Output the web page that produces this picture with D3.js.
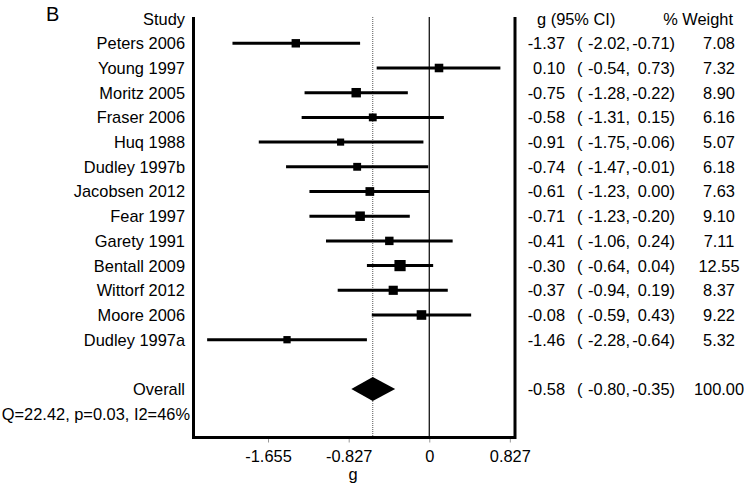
<!doctype html>
<html>
    <head>
        <style>
            body {margin:0; background-color:white}
            svg {width:744px; height:485px; display:block}
            text {font-family:"Liberation Sans", Arial, Helvetica, sans-serif; font-size:16.4px; fill:black}
        </style>
        <script src="https://d3js.org/d3.v7.min.js"></script>
    </head>
    <body>
        <script>
            var studies = ["Peters 2006","Young 1997","Moritz 2005","Fraser 2006","Huq 1988","Dudley 1997b","Jacobsen 2012","Fear 1997","Garety 1991","Bentall 2009","Wittorf 2012","Moore 2006","Dudley 1997a"];
            var gValues = [-1.37,0.10,-0.75,-0.58,-0.91,-0.74,-0.61,-0.71,-0.41,-0.30,-0.37,-0.08,-1.46];
            var ciLower = [-2.02,-0.54,-1.28,-1.31,-1.75,-1.47,-1.23,-1.23,-1.06,-0.64,-0.94,-0.59,-2.28];
            var ciUpper = [-0.71,0.73,-0.22,0.15,-0.06,-0.01,0.00,-0.20,0.24,0.04,0.19,0.43,-0.64];
            var weights = [7.08,7.32,8.90,6.16,5.07,6.18,7.63,9.10,7.11,12.55,8.37,9.22,5.32];
            var overall = {g:-0.58, lower:-0.80, upper:-0.35, weight:100.00};
            var hetText = "Q=22.42, p=0.03, I2=46%";
            var xTicks = [-1.655,-0.827,0,0.827];

            //globals
            var plotLeft=193.5;
            var plotRight=515;
            var plotTop=17;
            var plotBottom=437.5;

            var svgDoc = d3.select("body").append("svg");

            var x = d3.scaleLinear().domain([-2.42,0.88]).range([plotLeft,plotRight]);
            //row index -> y (header is -1, overall is 14, stats line 15)
            var y = d3.scaleLinear().domain([0,12]).range([43.3,339.7]);
            var size = d3.scaleSqrt().domain([0,12.55]).range([0,11.2]);

            function fmt(v){ return v.toFixed(2); }

            //panel letter
            svgDoc.append("text").attr("x",46).attr("y",20.5)
                .style("font-size","20px").text("B");

            //column headers
            svgDoc.append("text").attr("x",185).attr("y",y(-1)).attr("dy","0.36em")
                .attr("text-anchor","end").text("Study");
            svgDoc.append("text").attr("x",537).attr("y",y(-1)).attr("dy","0.36em")
                .text("g (95% CI)");
            svgDoc.append("text").attr("x",733).attr("y",y(-1)).attr("dy","0.36em")
                .attr("text-anchor","end").text("% Weight");

            //reference lines
            svgDoc.append("line")
                .attr("x1",x(0)).attr("x2",x(0)).attr("y1",plotTop).attr("y2",plotBottom)
                .attr("stroke","black").attr("stroke-width",1.2);
            svgDoc.append("line")
                .attr("x1",x(overall.g)).attr("x2",x(overall.g)).attr("y1",plotTop).attr("y2",plotBottom)
                .attr("stroke","#555").attr("stroke-width",1).attr("stroke-dasharray","1,1");

            //study rows
            var rows = svgDoc.append("g").selectAll("g")
                .data(studies)
                .enter()
                .append("g");

            rows.append("text")
                .attr("x",185).attr("y",function(d,i){return y(i)}).attr("dy","0.36em")
                .attr("text-anchor","end").text(function(d){return d});

            rows.append("line")
                .attr("x1",function(d,i){return x(ciLower[i])})
                .attr("x2",function(d,i){return x(ciUpper[i])})
                .attr("y1",function(d,i){return y(i)})
                .attr("y2",function(d,i){return y(i)})
                .attr("stroke","black").attr("stroke-width",3);

            rows.append("rect")
                .attr("x",function(d,i){return x(gValues[i])-size(weights[i])/2})
                .attr("y",function(d,i){return y(i)-size(weights[i])/2})
                .attr("width",function(d,i){return size(weights[i])})
                .attr("height",function(d,i){return size(weights[i])})
                .attr("fill","black");

            rows.append("text")
                .attr("x",565).attr("y",function(d,i){return y(i)}).attr("dy","0.36em")
                .attr("text-anchor","end").text(function(d,i){return fmt(gValues[i])});
            rows.append("text")
                .attr("x",577).attr("y",function(d,i){return y(i)}).attr("dy","0.36em")
                .text("(");
            rows.append("text")
                .attr("x",630).attr("y",function(d,i){return y(i)}).attr("dy","0.36em")
                .attr("text-anchor","end").text(function(d,i){return fmt(ciLower[i])+","});
            rows.append("text")
                .attr("x",675).attr("y",function(d,i){return y(i)}).attr("dy","0.36em")
                .attr("text-anchor","end").text(function(d,i){return fmt(ciUpper[i])+")"});
            rows.append("text")
                .attr("x",719).attr("y",function(d,i){return y(i)}).attr("dy","0.36em")
                .attr("text-anchor","middle").text(function(d,i){return fmt(weights[i])});

            //overall row
            var oy = y(14);
            svgDoc.append("text").attr("x",185).attr("y",oy).attr("dy","0.36em")
                .attr("text-anchor","end").text("Overall");
            svgDoc.append("path")
                .attr("d","M"+x(overall.lower)+","+oy+"L"+x(overall.g)+","+(oy-12)
                    +"L"+x(overall.upper)+","+oy+"L"+x(overall.g)+","+(oy+12)+"Z")
                .attr("fill","black");
            svgDoc.append("text").attr("x",565).attr("y",oy).attr("dy","0.36em")
                .attr("text-anchor","end").text(fmt(overall.g));
            svgDoc.append("text").attr("x",577).attr("y",oy).attr("dy","0.36em").text("(");
            svgDoc.append("text").attr("x",630).attr("y",oy).attr("dy","0.36em")
                .attr("text-anchor","end").text(fmt(overall.lower)+",");
            svgDoc.append("text").attr("x",675).attr("y",oy).attr("dy","0.36em")
                .attr("text-anchor","end").text(fmt(overall.upper)+")");
            svgDoc.append("text").attr("x",719).attr("y",oy).attr("dy","0.36em")
                .attr("text-anchor","middle").text(fmt(overall.weight));

            svgDoc.append("text").attr("x",190).attr("y",y(15)).attr("dy","0.36em")
                .attr("text-anchor","end").text(hetText);

            //x axis
            var xAxis = d3.axisBottom(x).tickValues(xTicks).tickSize(5).tickPadding(8)
                .tickFormat(function(d){return d===0 ? "0" : String(d)});
            var axisG = svgDoc.append("g")
                .attr("transform","translate(0,"+plotBottom+")")
                .call(xAxis);
            axisG.select(".domain").remove();
            axisG.selectAll(".tick line").attr("stroke","#999");
            axisG.selectAll(".tick text").style("font-size","16.4px").attr("fill","black")
                .style("font-family",'"Liberation Sans", Arial, sans-serif');
            svgDoc.append("text").attr("x",353).attr("y",480)
                .attr("text-anchor","middle").text("g");

            //frame: left, right, bottom
            svgDoc.append("path")
                .attr("d","M"+plotLeft+","+plotTop+"V"+plotBottom+"H"+plotRight+"V"+plotTop)
                .attr("fill","none").attr("stroke","black").attr("stroke-width",3);
        </script>
    </body>
</html>
